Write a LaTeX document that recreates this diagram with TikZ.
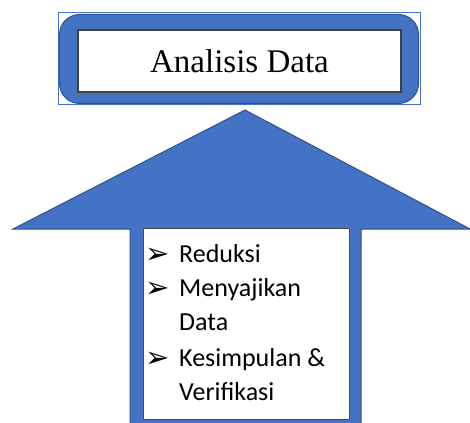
\documentclass[tikz,border=0pt]{standalone}
\usepackage{fontspec}
\setmainfont{Liberation Serif}
\newfontfamily\listfont{Carlito}
\newfontfamily\symfont{DejaVu Sans}
\definecolor{BoxBlue}{RGB}{68, 114, 196}
\definecolor{EdgeBlue}{RGB}{47, 82, 143}
\usetikzlibrary{positioning}

\newcommand{\bul}{\makebox[34pt][l]{\raisebox{-1pt}{\symfont\fontsize{29}{29}\selectfont ➢}}}
\newcommand{\nobul}{\hspace*{34pt}}

\begin{document}
\begin{tikzpicture}[x=1pt, y=-1pt,
        frame/.style={rectangle, draw=BoxBlue, line width=1pt},
        band/.style={rectangle, draw=EdgeBlue, fill=BoxBlue, line width=1pt, rounded corners=20pt},
        titlebox/.style={rectangle, draw=black!75, fill=white, line width=1.2pt, font=\fontsize{33}{40}\selectfont},
        listbox/.style={rectangle, draw=black!70, fill=white, line width=1pt},
        item/.style={anchor=base west, inner sep=0pt, font=\listfont\fontsize{26}{30}\selectfont},
        bigarrow/.style={draw=EdgeBlue, fill=BoxBlue, line width=1pt}
    ]
        \clip (0,0) rectangle (470,422);

        % top block
        \node[frame, minimum width=362pt, minimum height=92pt] (outer) at (239,59) {};
        \node[band, minimum width=359pt, minimum height=89pt] (band) at (239,59) {};
        \node[titlebox, minimum width=323pt, minimum height=62pt] (title) at (239.5,61) {Analisis Data};

        % up arrow
        \coordinate (tip) at (245,110);
        \draw[bigarrow] (tip) -- (470,229) -- (361,229) -- (361,430) -- (130,430) -- (130,229) -- (13,229) -- cycle;

        % list in the shaft
        \node[listbox, minimum width=206pt, minimum height=191pt] (list) at (246,323.5) {};
        \node[item] (reduksi) at (145,262) {\bul Reduksi};
        \node[item] (sajikan) at (145,296) {\bul Menyajikan};
        \node[item] (data) at (145,330) {\nobul Data};
        \node[item] (simpul) at (145,366) {\bul Kesimpulan \&};
        \node[item] (verif) at (145,400) {\nobul Verifikasi};
    \end{tikzpicture}
\end{document}
